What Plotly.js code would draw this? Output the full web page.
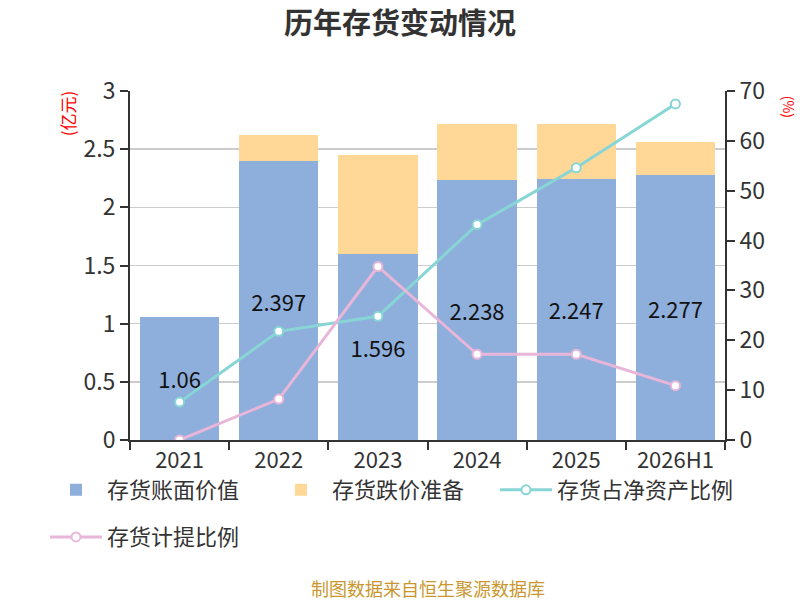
<!DOCTYPE html>
<html>
<head>
<meta charset="utf-8">
<script src="https://cdn.plot.ly/plotly-3.0.1.min.js"></script>
<style>html,body{margin:0;padding:0;background:#fff;}#chart{width:800px;height:600px;}</style>
</head>
<body>
<div id="chart"></div>
<script>
var categories = ["2021", "2022", "2023", "2024", "2025", "2026H1"];
var bookValue = [1.06, 2.397, 1.596, 2.238, 2.247, 2.277];
var impairment = [0, 0.225, 0.855, 0.477, 0.473, 0.285];
var inventoryToNetAssets = [7.6, 21.8, 24.8, 43.2, 54.6, 67.4];
var provisionRatio = [0, 8.2, 34.8, 17.2, 17.2, 10.9];

var FONT = '"Noto Sans CJK SC", "Noto Sans", sans-serif';

var traces = [
  {
    type: 'bar', name: '存货账面价值', x: categories, y: bookValue,
    marker: {color: '#8eaedb'},
    text: bookValue.map(function(v){return String(v);}),
    textposition: 'inside', insidetextanchor: 'middle',
    textfont: {color: '#111', size: 22, family: FONT},
    legend: 'legend'
  },
  {
    type: 'bar', name: '存货跌价准备', x: categories, y: impairment,
    marker: {color: '#ffd898'}, textposition: 'none', legend: 'legend2'
  },
  {
    type: 'scatter', mode: 'lines+markers', name: '存货占净资产比例',
    x: categories, y: inventoryToNetAssets, yaxis: 'y2', legend: 'legend3',
    line: {color: '#88d5d6', width: 3},
    marker: {symbol: 'circle', size: 9, color: '#ffffff', line: {color: '#88d5d6', width: 2}}
  },
  {
    type: 'scatter', mode: 'lines+markers', name: '存货计提比例',
    x: categories, y: provisionRatio, yaxis: 'y2', legend: 'legend4',
    line: {color: '#e8b6d8', width: 3},
    marker: {symbol: 'circle', size: 9, color: '#ffffff', line: {color: '#e8b6d8', width: 2}}
  }
];

function legendAt(x, y) {
  return {orientation: 'h', x: x, xanchor: 'left', y: y, yanchor: 'top',
          bgcolor: 'rgba(0,0,0,0)', font: {size: 22, color: '#333'}, itemwidth: 52};
}

var layout = {
  width: 800, height: 600,
  paper_bgcolor: '#fff', plot_bgcolor: '#fff',
  font: {family: FONT, color: '#333', size: 22},
  margin: {l: 130, r: 75, t: 91, b: 160, pad: 0},
  barmode: 'stack', bargap: 0.2,
  showlegend: true,
  title: {text: '<b>历年存货变动情况</b>', x: 0.5, xref: 'container', xanchor: 'center', y: 0.96, yref: 'container', yanchor: 'middle',
          font: {size: 29, color: '#333', family: FONT}},
  xaxis: {
    type: 'category', showline: true, linecolor: '#333', linewidth: 2,
    ticks: 'outside', tickson: 'boundaries', ticklen: 8, tickwidth: 2, tickcolor: '#333',
    tickfont: {size: 22, color: '#333'}, showgrid: false, zeroline: false,
    ticklabelstandoff: 0
  },
  yaxis: {
    range: [0, 3], dtick: 0.5, showline: true, linecolor: '#333', linewidth: 2,
    ticks: 'outside', ticklen: 8, tickwidth: 2, tickcolor: '#333',
    gridcolor: '#cccccc', gridwidth: 1.5, zeroline: false,
    tickfont: {size: 23, color: '#333'}
  },
  yaxis2: {
    overlaying: 'y', side: 'right', range: [0, 70], dtick: 10,
    showline: true, linecolor: '#333', linewidth: 2,
    ticks: 'outside', ticklen: 8, tickwidth: 2, tickcolor: '#333',
    showgrid: false, zeroline: false, tickfont: {size: 23, color: '#333'}
  },
  legend: legendAt(-0.1429, -0.083),
  legend2: legendAt(0.2353, -0.083),
  legend3: legendAt(0.6134, -0.083),
  legend4: legendAt(-0.1429, -0.218),
  annotations: [
    {text: '(亿元)', xref: 'paper', yref: 'paper', x: -0.105, y: 0.935, xanchor: 'center', yanchor: 'middle',
     textangle: -90, showarrow: false, font: {size: 17, color: '#ff0000'}},
    {text: '(%)', xref: 'paper', yref: 'paper', x: 1.1075, y: 0.955, xanchor: 'center', yanchor: 'middle',
     textangle: 90, showarrow: false, font: {size: 14, color: '#ff0000'}},
    {text: '制图数据来自恒生聚源数据库', xref: 'paper', yref: 'paper', x: 0.5, y: -0.425,
     xanchor: 'center', yanchor: 'middle', showarrow: false, font: {size: 18, color: '#c9972e'}}
  ]
};

Plotly.newPlot('chart', traces, layout, {displayModeBar: false, staticPlot: true});
</script>
</body>
</html>
